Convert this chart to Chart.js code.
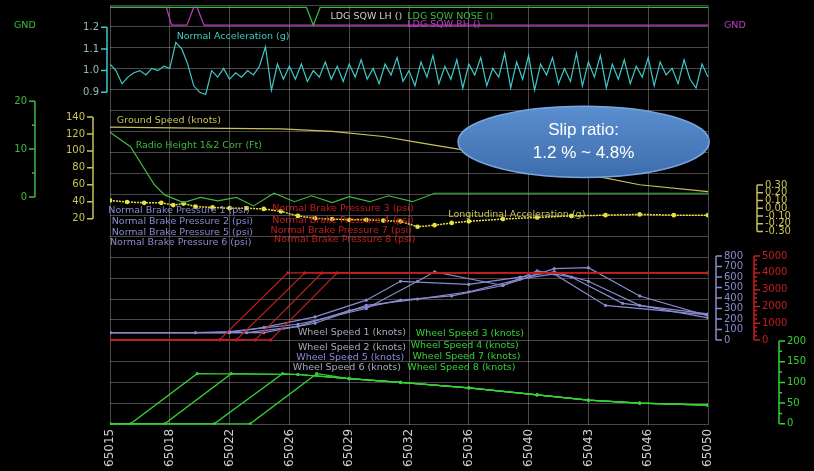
<!DOCTYPE html>
<html><head><meta charset="utf-8">
<script src="https://cdn.jsdelivr.net/npm/chart.js@4"></script>
<style>html,body{margin:0;background:#000;}#c{display:block}</style>
</head><body><div style="width:814px;height:471px"><canvas id="c"></canvas></div>
<script>
// ---- data ----
const tickLabels = ['65015','65018','65022','65026','65029','65032','65036','65040','65043','65046','65050'];
const accelStart = 65015, accelStep = 0.35;
const normalAccel = [1.03,1.00,0.94,0.97,0.99,1.00,0.98,1.01,1.00,1.02,1.01,
 1.13,1.10,1.03,0.93,0.90,0.89,1.00,0.97,1.01,0.96,
 0.99,0.97,1.00,0.98,1.02,1.11,0.91,1.03,0.96,1.02,
 0.96,1.03,0.95,1.00,0.97,1.04,0.96,1.02,0.95,1.03,
 0.97,1.05,0.96,1.01,0.94,1.03,0.98,1.06,0.95,1.00,
 0.93,1.04,0.97,1.07,0.94,1.02,0.96,1.05,0.92,1.03,
 0.98,1.06,0.93,1.01,0.97,1.08,0.92,1.04,0.96,1.07,
 0.91,1.03,0.98,1.06,0.94,1.01,0.95,1.08,0.93,1.04,
 0.97,1.07,0.92,1.03,0.96,1.05,0.94,1.02,0.97,1.06,
 0.93,1.04,0.98,1.01,0.94,1.05,0.96,0.92,1.03,0.97];
const groundSpeedT = [65015,65020,65025,65028,65031,65033,65036,65040,65043,65046,65050];
const groundSpeed  = [128,127,126,123,117,110,100,86,72,60,52];
const radioT = [65015,65016.2,65017.6,65018.2,65019.3,65020.3,65021.3,65022.4,65023.4,65024.6,65025.8,65026.8,65028,65029,65030.2,65031.3,65032.7,65034,65050];
const radioH = [122,105,60,48,39,45,41,45,35,50,40,47,39,46,40,47,40,50,50];
const longT = [65015,65016,65017,65018,65018.7,65019.3,65020,65021,65022,65023,65024,65025,65026,65027,65028,65029,65030,65031,65032,65033,65034,65035,65036,65038,65040,65042,65044,65046,65048,65050];
const longAcc = [0.10,0.08,0.07,0.07,0.04,0.06,0.02,0.01,0.00,0.00,-0.01,-0.04,-0.10,-0.13,-0.14,-0.15,-0.15,-0.16,-0.17,-0.24,-0.22,-0.19,-0.17,-0.14,-0.12,-0.10,-0.09,-0.08,-0.09,-0.09];
const brakeStart = [65021.4,65022.4,65023.5,65024.4];
const brakeEnd   = [65025.4,65026.4,65027.4,65028.3];
const brakeLow = 0, brakeHigh = 4000;
const wheelPurpleT = [
 [65015,65020,65022,65026,65030,65033,65034,65038,65041,65043,65046,65050],
 [65015,65022,65024,65027,65030,65032,65036,65039,65041,65043,65046,65050],
 [65015,65023,65026,65029,65032,65035,65038,65040,65042,65045,65050],
 [65015,65024,65027,65030,65033,65036,65039,65041,65044,65050]];
const wheelPurpleV = [
 [70,70,80,150,300,560,650,520,680,690,420,230],
 [70,70,120,220,380,560,530,600,650,560,330,210],
 [70,70,130,280,380,420,520,660,600,350,250],
 [70,70,160,330,390,460,580,630,330,240]];
const wheelGreenStart = [65016.2,65018.2,65021.1,65023.2];
const wheelGreenTop   = [65020.1,65022.1,65025.1,65027.1];
const wheelPlateau = 121;
const wheelDeclineT = [65026,65029,65032,65036,65040,65043,65046,65050];
const wheelDeclineV = [119,109,100,87,70,57,50,45];
const sqwRhT = [65015,65018.3,65018.6,65019.5,65019.9,65020.1,65020.5,65050];
const sqwRhV = [1,1,0,0,1,1,0,0];
const sqwNoseT = [65015,65026.5,65026.9,65027.3,65050];
const sqwNoseV = [1,1,0,1,1];

// ---- colors ----
const C = {cyan:'#3fc8c8', yellow:'#c9c25a', green:'#3fb83f', mag:'#c03cc0', red:'#c41e1e', purple:'#8a8ad0', wg:'#35d035', grid:'rgba(190,190,190,0.38)', tick:'#cfcfcf'};

const pts = (t,v)=>t.map((x,i)=>({x,y:v[i]}));
const ds = [];
function line(data, axis, color, extra){ ds.push(Object.assign({data, yAxisID:axis, borderColor:color, backgroundColor:color, borderWidth:1.2, pointRadius:0, tension:0, fill:false}, extra||{})); }

line(pts(sqwNoseT,sqwNoseV),'ySqw',C.green);
line(pts(sqwRhT,sqwRhV),'ySqw',C.mag);
line(normalAccel.map((v,i)=>({x:accelStart+i*accelStep,y:v})),'yAcc',C.cyan);
line(pts(groundSpeedT,groundSpeed),'ySpd',C.yellow);
line(pts(radioT,radioH),'ySpd',C.green);
line(pts(longT,longAcc),'yLong','#e8e040',{borderWidth:1.5,pointRadius:1.6,borderDash:[2,1]});
brakeStart.forEach((s,i)=>line([{x:65015,y:brakeLow},{x:s,y:brakeLow},{x:brakeEnd[i],y:brakeHigh},{x:65050,y:brakeHigh}],'yRed',C.red,{pointRadius:1}));
wheelPurpleT.forEach((t,i)=>line(pts(t,wheelPurpleV[i]),'yPur',C.purple,{pointRadius:1}));
wheelGreenStart.forEach((s,i)=>{
  const d=[{x:65015,y:0},{x:s,y:0},{x:wheelGreenTop[i],y:wheelPlateau}];
  wheelDeclineT.forEach((t,j)=>{ if(t>wheelGreenTop[i]) d.push({x:t,y:wheelDeclineV[j]}); });
  line(d,'yWg',C.wg,{pointRadius:1});
});

// ---- scales ----
const bands = {}; // per-axis drawing info kept out of Chart options
const zeroPad=s=>{s.paddingTop=0;s.paddingBottom=0;};
function yAxis(id,pos,min,max,lo,hi,step,color,width,spine,fmt,lc){
  bands[id]={lo,hi,color,spine,fmt:fmt||(v=>String(v)),lc:lc||color,left:pos==='left'};
  return {type:'linear',position:pos,min,max,
    afterFit:s=>{s.width=width;zeroPad(s);},
    afterBuildTicks:s=>{const t=[];for(let k=0;lo+k*step<=hi+1e-9;k++)t.push({value:+(lo+k*step).toFixed(6)});s.ticks=t;},
    grid:{display:false,drawTicks:false},border:{display:false},
    ticks:{display:false}};
}
const scales = {
  x:{type:'linear',min:65015,max:65050,
     afterFit:s=>{s.paddingLeft=0;s.paddingRight=0;},
     grid:{color:C.grid,drawTicks:false},border:{display:false},
     ticks:{stepSize:3.5,color:C.tick,maxRotation:90,minRotation:90,font:{size:12,family:'DejaVu Sans'},padding:4,
       callback:(v)=>{const i=Math.round((v-65015)/3.5);return tickLabels[i]??'';}}},
  yGrid:{type:'linear',position:'left',min:0,max:20,afterFit:s=>{s.width=0;zeroPad(s);},
     grid:{color:C.grid,drawTicks:false},border:{display:false},ticks:{display:false,stepSize:1}},
  yAcc:yAxis('yAcc','left',-0.632,1.3,0.9,1.2,0.1,C.cyan,15,-3,v=>v.toFixed(1),'#9bb'),
  ySpd:yAxis('ySpd','left',-223.5,271.7,20,140,20,C.yellow,57,-2),
  yGl:yAxis('yGl','left',-47.6,40,0,20,5,C.green,38,-3,v=>v%10===0?String(v):''),
  ySqw:{type:'linear',display:false,min:-22.5,max:1.11},
  yPur:yAxis('yPur','right',-809,3190,0,800,100,C.purple,38,8),
  yLong:yAxis('yLong','right',-2.80,2.62,-0.3,0.3,0.1,C.yellow,0,11,v=>(v<0?'-':'')+Math.abs(v).toFixed(2)),
  yRed:yAxis('yRed','right',-5059,19941,0,5000,250,C.red,30,8,v=>v%1000===0?String(v):''),
  yWg:yAxis('yWg','right',-2.4,1009.5,0,200,25,C.wg,38,3,v=>v%50===0?String(v):''),
};

const spines={id:'spines',afterDraw(ch){
  const g=ch.ctx;
  Object.keys(bands).forEach(id=>{
    const s=ch.scales[id], b=bands[id];
    const x= b.left? s.right+b.spine : s.left+b.spine;
    g.save();g.strokeStyle=b.color;g.lineWidth=1.5;g.beginPath();
    g.moveTo(x,s.getPixelForValue(b.lo));g.lineTo(x,s.getPixelForValue(b.hi));
    g.font='10px "DejaVu Sans"';g.textBaseline='middle';g.textAlign=b.left?'right':'left';g.fillStyle=b.lc;
    s.ticks.forEach(t=>{const y=s.getPixelForValue(t.value);const lab=b.fmt(t.value);const L=lab!==''?6:3;g.moveTo(x,y);g.lineTo(b.left?x-L:x+L,y);
      if(lab!=='') g.fillText(lab,b.left?x-8:x+8,y);});
    g.stroke();g.restore();
  });
}};

const labels=[
 ['LDG SQW LH ()',65027.9,'ySqw',0.5,'#ccc'],
 ['LDG SQW NOSE ()',65032.4,'ySqw',0.5,C.green],
 ['LDG SQW RH ()',65032.4,'ySqw',0.05,C.mag],
 ['Normal Acceleration (g)',65018.9,'yAcc',1.155,C.cyan],
 ['Ground Speed (knots)',65015.4,'ySpd',136,C.yellow],
 ['Radio Height 1&2 Corr (Ft)',65016.5,'ySpd',106,C.green],
 ['Normal Brake Pressure 1 (psi)',65014.9,'ySpd',29,C.purple],
 ['Normal Brake Pressure 2 (psi)',65015.1,'ySpd',16.5,C.purple],
 ['Normal Brake Pressure 5 (psi)',65015.1,'ySpd',3.5,C.purple],
 ['Normal Brake Pressure 6 (psi)',65015,'ySpd',-8,C.purple],
 ['Normal Brake Pressure 3 (psi)',65024.5,'ySpd',32,C.red],
 ['Normal Brake Pressure 4 (psi)',65024.5,'ySpd',18,C.red],
 ['Normal Brake Pressure 7 (psi)',65024.4,'ySpd',6.5,C.red],
 ['Normal Brake Pressure 8 (psi)',65024.6,'ySpd',-5,C.red],
 ['Longitudinal Acceleration (g)',65034.8,'ySpd',25,C.yellow],
 ['Wheel Speed 1 (knots)',65026,'yWg',221,'#aab'],
 ['Wheel Speed 3 (knots)',65032.9,'yWg',217,C.wg],
 ['Wheel Speed 2 (knots)',65026,'yWg',183,'#aab'],
 ['Wheel Speed 4 (knots)',65032.6,'yWg',188,C.wg],
 ['Wheel Speed 5 (knots)',65025.9,'yWg',160,'#8a8ae0'],
 ['Wheel Speed 7 (knots)',65032.7,'yWg',162,C.wg],
 ['Wheel Speed 6 (knots)',65025.7,'yWg',136,'#aab'],
 ['Wheel Speed 8 (knots)',65032.4,'yWg',136,C.wg],
];
const texts={id:'texts',afterDatasetsDraw(ch){
  const g=ch.ctx;g.save();g.font='9.5px "DejaVu Sans"';g.textBaseline='middle';g.textAlign='left';
  labels.forEach(([t,x,ax,y,c])=>{g.fillStyle=c;g.fillText(t,ch.scales.x.getPixelForValue(x),ch.scales[ax].getPixelForValue(y));});
  g.fillStyle=C.green;g.fillText('GND',14,ch.scales.ySqw.getPixelForValue(0));
  g.fillStyle=C.mag;g.fillText('GND',724,ch.scales.ySqw.getPixelForValue(0));
  const a=ch.chartArea,cx=a.left+a.width*0.792,cy=a.top+a.height*0.325,rx=a.width*0.21,ry=a.height*0.085;
  const grd=g.createLinearGradient(0,cy-ry,0,cy+ry);grd.addColorStop(0,'#5b8fd0');grd.addColorStop(1,'#3d6cab');
  g.beginPath();g.ellipse(cx,cy,rx,ry,0,0,Math.PI*2);g.fillStyle=grd;g.fill();g.strokeStyle='#7aa4dc';g.lineWidth=1.5;g.stroke();
  g.fillStyle='#fff';g.textAlign='center';g.font='17px "Liberation Sans"';
  g.fillText('Slip ratio:',cx,cy-11);g.fillText('1.2 % ~ 4.8%',cx,cy+12);
  g.restore();
}};

new Chart(document.getElementById('c'),{
  type:'line',data:{datasets:ds},
  options:{responsive:true,maintainAspectRatio:false,animation:false,
    layout:{padding:0},plugins:{legend:{display:false},tooltip:{enabled:false}},
    scales},
  plugins:[spines,texts,{id:'bg',beforeDraw(ch){ch.ctx.save();ch.ctx.fillStyle='#000';ch.ctx.fillRect(0,0,ch.width,ch.height);ch.ctx.restore();}}]
});
</script></body></html>
